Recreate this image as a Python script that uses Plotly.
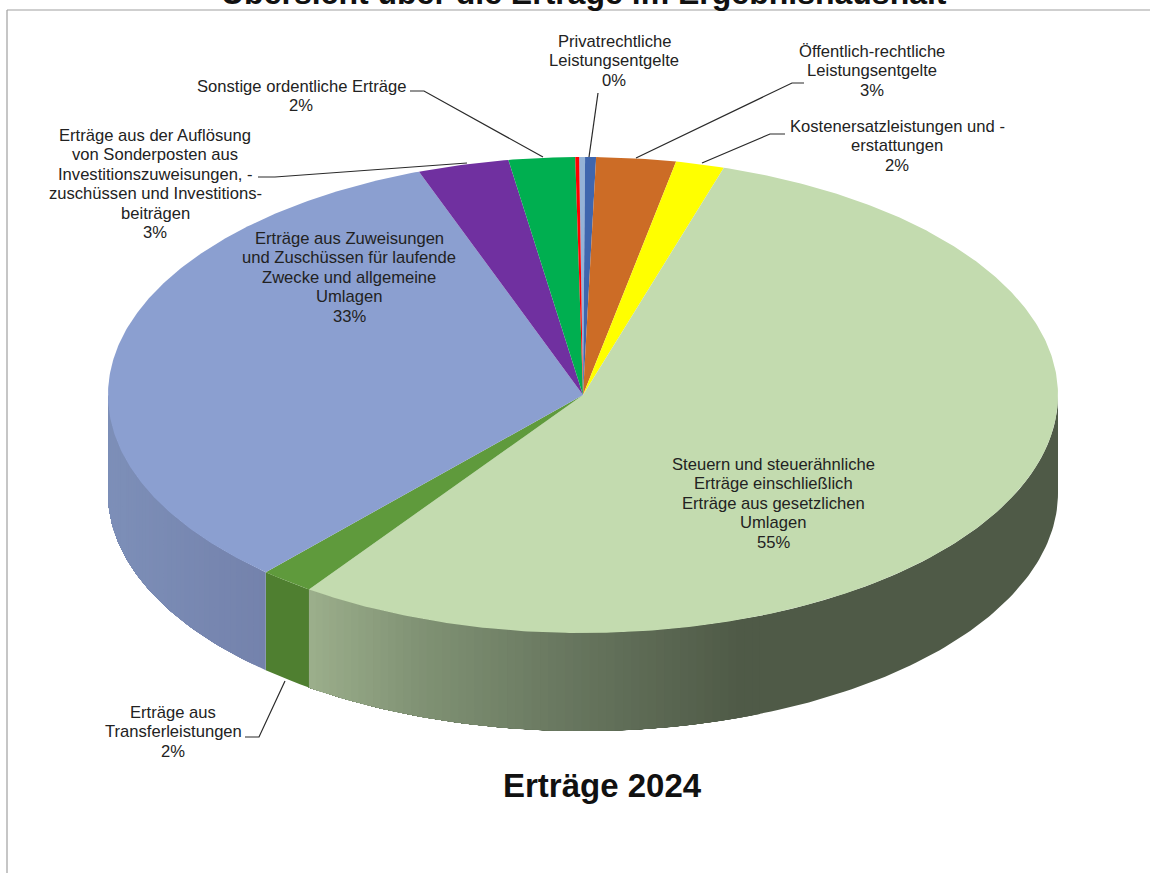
import numpy as np
import plotly.graph_objects as go

# ---- data (clockwise from 12 o'clock), percent of the circle
categories = ["Privatrechtliche (hell)", "Privatrechtliche Leistungsentgelte",
              "Öffentlich-rechtliche Leistungsentgelte", "Kostenersatzleistungen und -erstattungen",
              "Steuern und steuerähnliche Erträge", "Erträge aus Transferleistungen",
              "Erträge aus Zuweisungen und Zuschüssen", "Erträge aus der Auflösung von Sonderposten",
              "Sonstige ordentliche Erträge", "Privatrechtliche (rot)"]
values = [0.2, 0.37, 2.7, 1.65, 55.0, 1.85, 32.75, 3.1, 2.25, 0.13]
top_colors = ["#95B3D7", "#3F66AE", "#CC6C26", "#FFFF00", "#C3DBAF", "#5F9A3C", "#8B9FD0", "#7030A0", "#00AF50", "#FF0000"]
start_percent = -0.13

# Side wall shade by horizontal pixel position
side_x_stops = [307, 420, 560, 740]
side_green = [(156, 175, 140), (128, 146, 116), (105, 120, 96), (79, 90, 71)]
side_blue_l = (125, 143, 184)
side_blue_r = (116, 130, 172)
side_dark = "#4F7F30"

# Texts: (centre x, first-line y, lines)
labels = [
    (614, 41, ["Privatrechtliche", "Leistungsentgelte", "0%"]),
    (872, 51, ["Öffentlich-rechtliche", "Leistungsentgelte", "3%"]),
    (897, 126, ["Kostenersatzleistungen und -", "erstattungen", "2%"]),
    (301, 86, ["Sonstige ordentliche Erträge", "2%"]),
    (155, 135, ["Erträge aus der Auflösung", "von Sonderposten aus", "Investitionszuweisungen, -",
                "zuschüssen und Investitions-", "beiträgen", "3%"]),
    (349, 238, ["Erträge aus Zuweisungen", "und Zuschüssen für laufende", "Zwecke und allgemeine", "Umlagen", "33%"]),
    (773, 464, ["Steuern und steuerähnliche", "Erträge einschließlich", "Erträge aus gesetzlichen", "Umlagen", "55%"]),
    (173, 712, ["Erträge aus", "Transferleistungen", "2%"]),
]
leaders = [
    ([598, 589], [93, 157]),
    ([804, 792, 636], [83, 83, 158]),
    ([785, 770, 702], [134, 134, 163]),
    ([410, 424, 543], [91, 91, 157]),
    ([258, 275, 467], [177, 177, 163]),
    ([245, 259, 285], [737, 737, 681]),
]

# Layout geometry
cx, cy, rx, ry, depth = 583, 395, 475, 238, 98
LINE_H = 19.5


def ex(t):
    return cx + rx * np.sin(t)


def ey(t):
    return cy - ry * np.cos(t)


fig = go.Figure()
edges = np.radians((start_percent + np.concatenate([[0], np.cumsum(values)])) * 3.6 * 100 / sum(values))


def poly(xs, ys, color):
    fig.add_trace(go.Scatter(x=list(xs), y=list(ys), mode="lines", fill="toself", fillcolor=color,
                             line=dict(color=color, width=0), hoverinfo="skip", showlegend=False))


def side_color(i, xmid):
    if i == 4:
        rgb = [np.interp(xmid, side_x_stops, [c[k] for c in side_green]) for k in range(3)]
    elif i == 5:
        return side_dark
    else:
        f = np.clip((xmid - 108) / (264 - 108), 0, 1)
        rgb = [side_blue_l[k] + (side_blue_r[k] - side_blue_l[k]) * f for k in range(3)]
    return "rgb(%d,%d,%d)" % tuple(int(round(v)) for v in rgb)


# Side wall: only the front half of the rim is visible. Bands are painted in rim order,
# each running to the end of its slice, so no seams show between them.
for i, (a, b) in enumerate(zip(edges[:-1], edges[1:])):
    lo, hi = max(a, np.pi / 2), min(b, 3 * np.pi / 2)
    if hi <= lo:
        continue
    n = 1 if i == 5 else max(2, int((hi - lo) / np.radians(1.0)))
    ts = np.linspace(lo, hi, n + 1)
    for t0, t1 in zip(ts[:-1], ts[1:]):
        if i == 4 and ex(t0) > side_x_stops[-1] + 20 and t0 != lo:
            continue
        tt = np.linspace(t0, hi, max(3, int((hi - t0) / np.radians(1.0))))
        xs = np.concatenate([ex(tt), ex(tt)[::-1]])
        ys = np.concatenate([ey(tt), ey(tt)[::-1] + depth])
        poly(xs, ys, side_color(i, ex((t0 + t1) / 2)))

# Top surface
for i, (a, b) in enumerate(zip(edges[:-1], edges[1:])):
    tt = np.linspace(a, b, max(3, int((b - a) / np.radians(0.5))))
    poly(np.concatenate([[cx], ex(tt), [cx]]), np.concatenate([[cy], ey(tt), [cy]]), top_colors[i])

# Leader lines
for lx, ly in leaders:
    fig.add_trace(go.Scatter(x=lx, y=ly, mode="lines", line=dict(color="#2A2A2A", width=1.2),
                             hoverinfo="skip", showlegend=False))

annotations = []
for x0, y0, lines in labels:
    for j, s in enumerate(lines):
        annotations.append(dict(x=x0, y=y0 + j * LINE_H, xref="x", yref="y", text=s, showarrow=False,
                                xanchor="center", yanchor="middle",
                                font=dict(family="Liberation Sans", size=16.6, color="#222222")))
annotations.append(dict(x=602, y=785, xref="x", yref="y", text="Erträge 2024", showarrow=False,
                        xanchor="center", yanchor="middle",
                        font=dict(family="Liberation Sans", size=33, color="#111111", weight="bold")))
annotations.append(dict(x=584 / 1150, y=1 + 7 / 873, xref="paper", yref="paper",
                        text="Übersicht über die Erträge im Ergebnishaushalt",
                        showarrow=False, xanchor="center", yanchor="middle",
                        font=dict(family="Liberation Sans", size=32, color="#111111", weight="bold")))

shapes = [
    dict(type="line", x0=7, x1=1150, y0=10, y1=10, xref="x", yref="y", line=dict(color="#A0A0A0", width=1.2), layer="above"),
    dict(type="line", x0=7, x1=7, y0=10, y1=873, xref="x", yref="y", line=dict(color="#A0A0A0", width=1.2), layer="above"),
]

fig.update_layout(
    width=1150, height=873, autosize=False,
    margin=dict(l=0, r=0, t=0, b=0),
    paper_bgcolor="white", plot_bgcolor="white",
    xaxis=dict(range=[0, 1150], visible=False, fixedrange=True),
    yaxis=dict(range=[873, 0], visible=False, fixedrange=True),
    annotations=annotations, shapes=shapes, showlegend=False,
)
fig.write_html("out.html", config={"displayModeBar": False},
               post_script="document.body.style.margin='0';document.documentElement.style.overflow='hidden';")
